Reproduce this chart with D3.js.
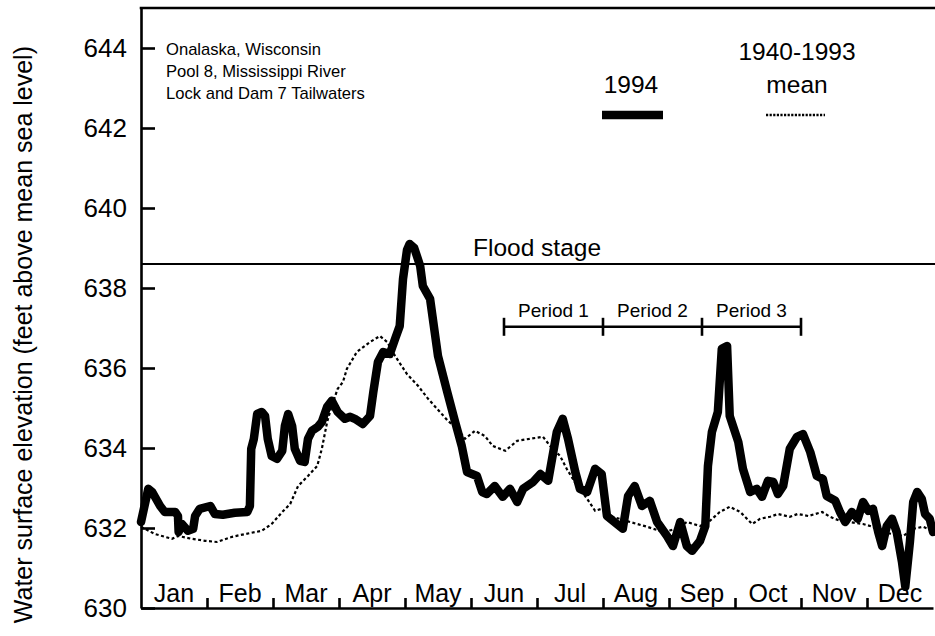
<!DOCTYPE html>
<html>
<head>
<meta charset="utf-8">
<script src="https://d3js.org/d3.v7.min.js"></script>
<style>
  body { margin: 0; background: #fff; }
  text { font-family: "Liberation Sans", Arial, sans-serif; fill: #000; }
</style>
</head>
<body>
<div id="chart"></div>
<script>
// Data: positions are in months from Jan 1 (0 = Jan 1, 12 = Dec 31)
const months = ["Jan", "Feb", "Mar", "Apr", "May", "Jun", "Jul", "Aug", "Sep", "Oct", "Nov", "Dec"];
const yTicks = [630, 632, 634, 636, 638, 640, 642, 644];

const t1994 = [0, 0.11, 0.17, 0.29, 0.36, 0.52, 0.56, 0.57, 0.62, 0.71, 0.79, 0.82, 0.89, 1.05, 1.12, 1.24, 1.42, 1.61, 1.65, 1.67,
  1.71, 1.76, 1.83, 1.88, 1.92, 1.98, 2.06, 2.14, 2.18, 2.23, 2.29, 2.33, 2.41, 2.48, 2.53, 2.59, 2.68, 2.74, 2.82, 2.89,
  2.98, 3.09, 3.17, 3.24, 3.36, 3.47, 3.52, 3.59, 3.67, 3.77, 3.85, 3.92, 3.97, 4.03, 4.07, 4.14, 4.23, 4.27, 4.38, 4.50,
  4.64, 4.76, 4.86, 4.94, 5.09, 5.17, 5.24, 5.36, 5.48, 5.59, 5.70, 5.79, 5.94, 6.05, 6.17, 6.30, 6.39, 6.47, 6.58, 6.65,
  6.76, 6.88, 6.98, 7.06, 7.21, 7.30, 7.38, 7.48, 7.59, 7.71, 7.82, 7.97, 8.06, 8.17, 8.27, 8.35, 8.47, 8.55, 8.59, 8.65,
  8.74, 8.80, 8.88, 8.92, 9.05, 9.12, 9.23, 9.33, 9.41, 9.50, 9.58, 9.65, 9.73, 9.83, 9.94, 10.03, 10.14, 10.24, 10.33, 10.39,
  10.52, 10.59, 10.67, 10.77, 10.86, 10.94, 11.02, 11.09, 11.17, 11.23, 11.30, 11.38, 11.45, 11.53, 11.58, 11.65, 11.70, 11.76, 11.83, 11.88,
  11.95, 12.0];
const v1994 = [632.15, 632.98, 632.90, 632.55, 632.40, 632.40, 632.30, 631.90, 632.10, 631.93, 631.98, 632.30, 632.48, 632.55, 632.35, 632.33, 632.38, 632.40, 632.55, 633.98,
  634.23, 634.85, 634.90, 634.80, 634.23, 633.80, 633.73, 633.93, 634.55, 634.85, 634.55, 633.98, 633.68, 633.65, 634.23, 634.43, 634.53, 634.65, 635.03, 635.18,
  634.90, 634.73, 634.78, 634.73, 634.60, 634.80, 635.40, 636.15, 636.40, 636.35, 636.73, 637.05, 638.23, 638.95, 639.10, 639.00, 638.55, 638.05, 637.73, 636.30,
  635.40, 634.65, 634.05, 633.40, 633.30, 632.90, 632.85, 633.05, 632.78, 632.98, 632.65, 632.98, 633.15, 633.35, 633.18, 634.40, 634.73, 634.23, 633.40, 632.98,
  632.90, 633.48, 633.35, 632.30, 632.10, 631.98, 632.80, 633.05, 632.55, 632.68, 632.15, 631.80, 631.55, 632.15, 631.55, 631.43, 631.68, 632.05, 633.55, 634.40,
  634.90, 636.48, 636.55, 634.80, 634.15, 633.48, 632.90, 632.98, 632.78, 633.18, 633.15, 632.85, 633.05, 633.98, 634.28, 634.35, 633.90, 633.30, 633.23, 632.80,
  632.68, 632.40, 632.15, 632.40, 632.23, 632.65, 632.43, 632.48, 631.90, 631.55, 632.05, 632.23, 631.90, 631.15, 630.53, 631.65, 632.65, 632.90, 632.73, 632.35,
  632.23, 631.90];

const tMean = [0, 0.21, 0.47, 0.56, 0.77, 0.97, 1.15, 1.38, 1.58, 1.83, 1.98, 2.14, 2.26, 2.38, 2.53, 2.67, 2.74, 2.82, 2.89, 2.98,
  3.06, 3.12, 3.27, 3.47, 3.62, 3.73, 3.85, 4.03, 4.20, 4.35, 4.53, 4.65, 4.79, 4.91, 5.06, 5.21, 5.33, 5.52, 5.70, 5.89,
  6.09, 6.20, 6.35, 6.45, 6.61, 6.76, 6.88, 6.98, 7.11, 7.41, 7.67, 7.91, 8.12, 8.27, 8.47, 8.62, 8.77, 8.92, 9.08, 9.26,
  9.38, 9.53, 9.65, 9.83, 9.95, 10.11, 10.32, 10.44, 10.59, 10.94, 11.09, 11.20, 11.39, 11.55, 11.70, 11.85, 12.0];
const vMean = [632.03, 631.85, 631.73, 631.80, 631.73, 631.68, 631.65, 631.78, 631.85, 631.93, 632.10, 632.40, 632.60, 633.05, 633.30, 633.55, 633.98, 634.65, 635.05, 635.48,
  635.65, 635.98, 636.40, 636.65, 636.80, 636.65, 636.30, 635.85, 635.55, 635.23, 634.90, 634.68, 634.48, 634.23, 634.43, 634.30, 634.05, 633.93, 634.18, 634.23,
  634.28, 634.05, 633.80, 633.48, 633.05, 632.73, 632.43, 632.48, 632.30, 632.15, 632.03, 631.90, 631.98, 632.15, 632.05, 632.18, 632.40, 632.53, 632.40, 632.10,
  632.23, 632.28, 632.35, 632.28, 632.35, 632.30, 632.40, 632.28, 632.18, 632.10, 632.03, 631.90, 631.85, 631.80, 631.98, 632.03, 631.93];

const floodStage = 638.6;
const periodLabels = ["Period 1", "Period 2", "Period 3"];
const periodBounds = [5.5, 7.0, 8.5, 10.0];
const periodLevel = 637.03;
const siteLines = ["Onalaska, Wisconsin", "Pool 8, Mississippi River", "Lock and Dam 7 Tailwaters"];

const svgWidth = 935;
const svgHeight = 636;

const margin = {
  top: 8,
  right: 2,
  bottom: 28,
  left: 141
};

const width = svgWidth - margin.left - margin.right;
const height = svgHeight - margin.top - margin.bottom;

const svg = d3.select("#chart")
  .append("svg")
  .attr("width", svgWidth)
  .attr("height", svgHeight);

const chartGroup = svg.append("g")
  .attr("transform", `translate(${margin.left}, ${margin.top})`);

// Scales
const xScale = d3.scaleLinear()
  .domain([0, 12])
  .range([0, width]);

const yScale = d3.scaleLinear()
  .domain([630, 645])
  .range([height, 0]);

// Axes (ticks point inward)
const leftAxis = d3.axisLeft(yScale)
  .tickValues(yTicks)
  .tickSizeInner(-14)
  .tickSizeOuter(0)
  .tickPadding(14)
  .tickFormat(d3.format("d"));

const bottomAxis = d3.axisBottom(xScale)
  .tickValues(d3.range(1, 12))
  .tickSizeInner(-10)
  .tickSizeOuter(0)
  .tickFormat("");

const yAxisG = chartGroup.append("g").call(leftAxis);
yAxisG.selectAll("path, line").attr("stroke", "#000").attr("stroke-width", 2.6);
yAxisG.selectAll("text").attr("font-size", 26).attr("font-family", "Liberation Sans, Arial, sans-serif");

const xAxisG = chartGroup.append("g")
  .attr("transform", `translate(0, ${height})`)
  .call(bottomAxis);
xAxisG.selectAll("path, line").attr("stroke", "#000").attr("stroke-width", 2.6);

// top border
chartGroup.append("line")
  .attr("x1", -1.3).attr("x2", width + margin.right)
  .attr("y1", 0).attr("y2", 0)
  .attr("stroke", "#000").attr("stroke-width", 2.6);

// Month labels
chartGroup.selectAll(".month")
  .data(months)
  .enter()
  .append("text")
  .attr("x", (d, i) => xScale(i + 0.5))
  .attr("y", height - 6)
  .attr("text-anchor", "middle")
  .attr("font-size", 25)
  .text(d => d);

// Y axis title
svg.append("text")
  .attr("transform", "rotate(-90)")
  .attr("x", -46)
  .attr("y", 32)
  .attr("text-anchor", "end")
  .attr("font-size", 25)
  .text("Water surface elevation (feet above mean sea level)");

// Flood stage
chartGroup.append("line")
  .attr("x1", 0).attr("x2", width + margin.right)
  .attr("y1", yScale(floodStage)).attr("y2", yScale(floodStage))
  .attr("stroke", "#000").attr("stroke-width", 2);

chartGroup.append("text")
  .attr("x", xScale(6))
  .attr("y", yScale(floodStage) - 8)
  .attr("text-anchor", "middle")
  .attr("font-size", 24.5)
  .text("Flood stage");

// Periods
const py = yScale(periodLevel);
chartGroup.append("line")
  .attr("x1", xScale(periodBounds[0])).attr("x2", xScale(periodBounds[3]))
  .attr("y1", py).attr("y2", py)
  .attr("stroke", "#000").attr("stroke-width", 2.6);

chartGroup.selectAll(".pTick")
  .data(periodBounds)
  .enter()
  .append("line")
  .attr("x1", d => xScale(d)).attr("x2", d => xScale(d))
  .attr("y1", py - 9).attr("y2", py + 9)
  .attr("stroke", "#000").attr("stroke-width", 2.6);

chartGroup.selectAll(".pLabel")
  .data(periodLabels)
  .enter()
  .append("text")
  .attr("x", (d, i) => xScale((periodBounds[i] + periodBounds[i + 1]) / 2))
  .attr("y", py - 10)
  .attr("text-anchor", "middle")
  .attr("font-size", 19)
  .text(d => d);

// Mean line (dotted)
const line = d3.line()
  .x(d => xScale(d[0]))
  .y(d => yScale(d[1]));

chartGroup.append("path")
  .datum(tMean.map((t, i) => [t, vMean[i]]))
  .attr("d", line)
  .attr("fill", "none")
  .attr("stroke", "#000")
  .attr("stroke-width", 2.2)
  .attr("stroke-dasharray", "3,2.5");

// 1994 line
chartGroup.append("path")
  .datum(t1994.map((t, i) => [t, v1994[i]]))
  .attr("d", line)
  .attr("fill", "none")
  .attr("stroke", "#000")
  .attr("stroke-width", 8.5)
  .attr("stroke-linejoin", "round")
  .attr("stroke-linecap", "round");

// Site annotation
svg.append("text")
  .attr("x", 166)
  .attr("y", 55)
  .attr("font-size", 16.6)
  .selectAll("tspan")
  .data(siteLines)
  .enter()
  .append("tspan")
  .attr("x", 166)
  .attr("dy", (d, i) => i === 0 ? 0 : 22)
  .text(d => d);

// Legend
svg.append("text")
  .attr("x", 631).attr("y", 93)
  .attr("text-anchor", "middle")
  .attr("font-size", 24.5)
  .text("1994");

svg.append("line")
  .attr("x1", 602).attr("x2", 663)
  .attr("y1", 115).attr("y2", 115)
  .attr("stroke", "#000").attr("stroke-width", 8.5);

svg.append("text")
  .attr("x", 797).attr("y", 60)
  .attr("text-anchor", "middle")
  .attr("font-size", 24.5)
  .text("1940-1993");

svg.append("text")
  .attr("x", 797).attr("y", 93)
  .attr("text-anchor", "middle")
  .attr("font-size", 24.5)
  .text("mean");

svg.append("line")
  .attr("x1", 766).attr("x2", 825)
  .attr("y1", 115).attr("y2", 115)
  .attr("stroke", "#000").attr("stroke-width", 2.4)
  .attr("stroke-dasharray", "2.2,1.4");
</script>
</body>
</html>
